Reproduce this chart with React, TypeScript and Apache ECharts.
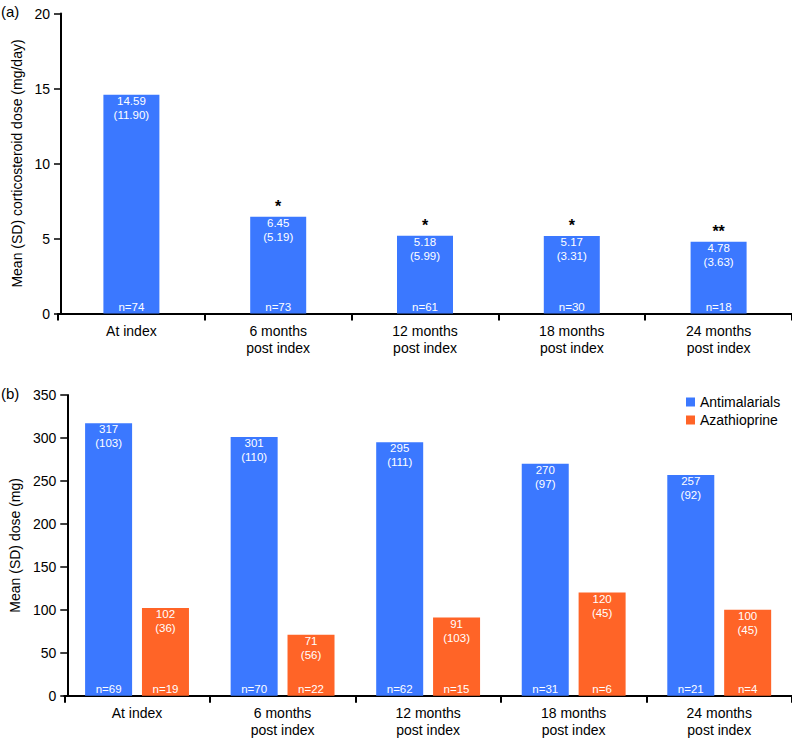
import React, { useEffect, useRef } from "react";
import * as echarts from "echarts";

const categories = [
  "At index",
  "6 months\npost index",
  "12 months\npost index",
  "18 months\npost index",
  "24 months\npost index",
];

// Panel (a): corticosteroid dose
const steroidMean = [14.59, 6.45, 5.18, 5.17, 4.78];
const steroidSD = ["11.90", "5.19", "5.99", "3.31", "3.63"];
const steroidN = [74, 73, 61, 30, 18];
const steroidSig = ["", "*", "*", "*", "**"];

// Panel (b): antimalarials & azathioprine
const antimalarialMean = [317, 301, 295, 270, 257];
const antimalarialSD = [103, 110, 111, 97, 92];
const antimalarialN = [69, 70, 62, 31, 21];

const azathioprineMean = [102, 71, 91, 120, 100];
const azathioprineSD = [36, 56, 103, 45, 45];
const azathioprineN = [19, 22, 15, 6, 4];

const yTicksA = { min: 0, max: 20, interval: 5 };
const yTicksB = { min: 0, max: 350, interval: 50 };

const BLUE = "#3B78FF";
const ORANGE = "#FF6427";
const FONT = "'Liberation Sans', Arial, sans-serif";

export default function App() {
  const ref = useRef<HTMLDivElement>(null);

  useEffect(() => {
    if (!ref.current) return;
    const chart = echarts.init(ref.current, null, { renderer: "svg" });

    const zeros = (arr: number[]) => arr.map(() => 0);

    const xAxisCommon = {
      type: "category",
      data: categories,
      axisLine: { lineStyle: { color: "#000", width: 2 } },
      axisTick: { show: true, length: 7, lineStyle: { color: "#000", width: 2 } },
      axisLabel: {
        color: "#000",
        fontSize: 14,
        fontFamily: FONT,
        lineHeight: 17,
        margin: 9,
        interval: 0,
      },
    };

    const yAxisCommon = {
      type: "value",
      nameLocation: "middle",
      nameRotate: 90,
      offset: -3,
      nameTextStyle: { color: "#000", fontSize: 14, fontFamily: FONT },
      axisLine: { show: true, lineStyle: { color: "#000", width: 2 } },
      axisTick: { show: true, length: 7, lineStyle: { color: "#000", width: 1.5 } },
      axisLabel: { color: "#000", fontSize: 14, fontFamily: FONT, margin: 11 },
      splitLine: { show: false },
    };

    const valueLabel = {
      show: true,
      position: "insideTop",
      distance: -1,
      color: "#fff",
      fontSize: 11.5,
      lineHeight: 14,
      fontFamily: FONT,
    };

    const nLabel = {
      show: true,
      position: "top",
      distance: 0,
      color: "#fff",
      fontSize: 11.5,
      lineHeight: 14,
      fontFamily: FONT,
    };

    const option = {
      animation: false,
      graphic: [
        {
          type: "text",
          x: 1,
          y: 11,
          style: { text: "(a)", font: `15px ${FONT}`, fill: "#000", verticalAlign: "middle" },
        },
        {
          type: "text",
          x: 1,
          y: 393,
          style: { text: "(b)", font: `15px ${FONT}`, fill: "#000", verticalAlign: "middle" },
        },
      ],
      legend: {
        data: ["Antimalarials", "Azathioprine"],
        orient: "vertical",
        left: 686,
        top: 395,
        padding: 0,
        itemWidth: 9,
        itemHeight: 9,
        itemGap: 4,
        icon: "rect",
        textStyle: { color: "#000", fontSize: 14, fontFamily: FONT },
      },
      grid: [
        { left: 58, right: 0, top: 13.5, height: 300, containLabel: false },
        { left: 58, right: 0, top: 395, height: 300.7, containLabel: false },
      ],
      xAxis: [
        { ...xAxisCommon, gridIndex: 0 },
        { ...xAxisCommon, gridIndex: 1 },
      ],
      yAxis: [
        {
          ...yAxisCommon,
          gridIndex: 0,
          ...yTicksA,
          name: "Mean (SD) corticosteroid dose (mg/day)",
          nameGap: 33,
        },
        {
          ...yAxisCommon,
          gridIndex: 1,
          ...yTicksB,
          name: "Mean (SD) dose (mg)",
          nameGap: 41,
        },
      ],
      series: [
        // Panel (a)
        {
          name: "steroid-n",
          type: "bar",
          xAxisIndex: 0,
          yAxisIndex: 0,
          stack: "steroid",
          barWidth: 56,
          z: 3,
          data: zeros(steroidN),
          itemStyle: { color: "transparent" },
          label: { ...nLabel, formatter: (p: any) => `n=${steroidN[p.dataIndex]}` },
        },
        {
          name: "Corticosteroids",
          type: "bar",
          xAxisIndex: 0,
          yAxisIndex: 0,
          stack: "steroid",
          barWidth: 56,
          data: steroidMean,
          itemStyle: { color: BLUE },
          label: {
            ...valueLabel,
            formatter: (p: any) =>
              `${steroidMean[p.dataIndex].toFixed(2)}\n(${steroidSD[p.dataIndex]})`,
          },
        },
        {
          name: "steroid-sig",
          type: "bar",
          xAxisIndex: 0,
          yAxisIndex: 0,
          stack: "steroid",
          barWidth: 56,
          z: 3,
          data: zeros(steroidN),
          itemStyle: { color: "transparent" },
          label: {
            show: true,
            position: "top",
            distance: 5,
            color: "#000",
            fontSize: 16,
            fontWeight: "bold",
            lineHeight: 10,
            fontFamily: FONT,
            formatter: (p: any) => steroidSig[p.dataIndex],
          },
        },
        // Panel (b)
        {
          name: "am-n",
          type: "bar",
          xAxisIndex: 1,
          yAxisIndex: 1,
          stack: "am",
          barWidth: 47,
          barGap: "21%",
          z: 3,
          data: zeros(antimalarialN),
          itemStyle: { color: "transparent" },
          label: { ...nLabel, formatter: (p: any) => `n=${antimalarialN[p.dataIndex]}` },
        },
        {
          name: "Antimalarials",
          type: "bar",
          xAxisIndex: 1,
          yAxisIndex: 1,
          stack: "am",
          barWidth: 47,
          barGap: "21%",
          data: antimalarialMean,
          itemStyle: { color: BLUE },
          label: {
            ...valueLabel,
            formatter: (p: any) =>
              `${antimalarialMean[p.dataIndex]}\n(${antimalarialSD[p.dataIndex]})`,
          },
        },
        {
          name: "az-n",
          type: "bar",
          xAxisIndex: 1,
          yAxisIndex: 1,
          stack: "az",
          barWidth: 47,
          barGap: "21%",
          z: 3,
          data: zeros(azathioprineN),
          itemStyle: { color: "transparent" },
          label: { ...nLabel, formatter: (p: any) => `n=${azathioprineN[p.dataIndex]}` },
        },
        {
          name: "Azathioprine",
          type: "bar",
          xAxisIndex: 1,
          yAxisIndex: 1,
          stack: "az",
          barWidth: 47,
          barGap: "21%",
          data: azathioprineMean,
          itemStyle: { color: ORANGE },
          label: {
            ...valueLabel,
            formatter: (p: any) =>
              `${azathioprineMean[p.dataIndex]}\n(${azathioprineSD[p.dataIndex]})`,
          },
        },
      ],
    };

    chart.setOption(option as any);
    return () => chart.dispose();
  }, []);

  return (
    <div
      ref={ref}
      style={{ position: "fixed", left: 0, top: 0, width: 792, height: 741, background: "#fff" }}
    />
  );
}
